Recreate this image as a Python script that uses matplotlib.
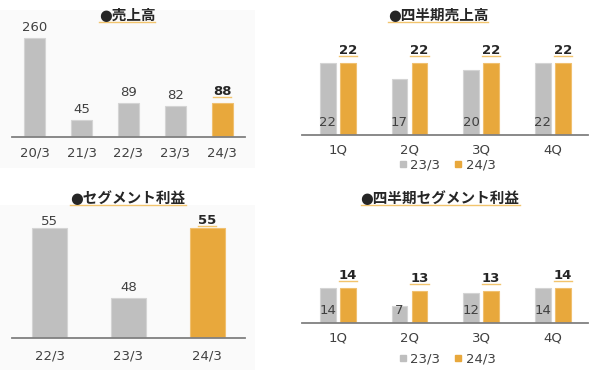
import matplotlib
matplotlib.use("Agg")
import matplotlib.pyplot as plt
from matplotlib.lines import Line2D
from matplotlib.patches import Rectangle

plt.rcParams['font.family'] = ['DejaVu Sans', 'Noto Sans CJK JP']

# données
years_sales = ['20/3', '21/3', '22/3', '23/3', '24/3']
sales = [260, 45, 89, 82, 88]

years_profit = ['22/3', '23/3', '24/3']
profit = [55, 48, 55]

quarters = ['1Q', '2Q', '3Q', '4Q']
q_sales_23 = [22, 17, 20, 22]
q_sales_24 = [22, 22, 22, 22]
q_profit_23 = [14, 7, 12, 14]
q_profit_24 = [14, 13, 13, 14]

GRAY = '#BFBFBF'
ORANGE = '#E8A83C'
TXT = '#404040'
LINE_COL = '#F2C46D'
FS = 9.5

W, H = 600, 375
fig = plt.figure(figsize=(6, 3.75), dpi=100)


def rect(l, t, r, b):
    return [l / W, 1 - b / H, (r - l) / W, (b - t) / H]


# fonds très clairs à gauche
fig.add_artist(Rectangle((0, 1 - 168 / H), 255 / W, 158 / H, transform=fig.transFigure,
                         facecolor='#FAFAFA', edgecolor='none', zorder=0))
fig.add_artist(Rectangle((0, 1 - 370 / H), 255 / W, 165 / H, transform=fig.transFigure,
                         facecolor='#FAFAFA', edgecolor='none', zorder=0))

underlined = []


def style(ax, labels, pad):
    for s in ['top', 'right', 'left']:
        ax.spines[s].set_visible(False)
    ax.spines['bottom'].set_color('#808080')
    ax.spines['bottom'].set_linewidth(1.3)
    ax.set_yticks([])
    ax.set_xticks(range(len(labels)))
    ax.set_xticklabels(labels, fontsize=FS, color=TXT)
    ax.tick_params(axis='x', length=0, pad=pad)
    ax.patch.set_alpha(0)


def simple_chart(ax, labels, values, offsets, pad):
    x = range(len(values))
    colors = [GRAY] * (len(values) - 1) + [ORANGE]
    edges = ['#D4D4D4'] * (len(values) - 1) + ['#F0C070']
    ax.bar(x, values, width=0.45, color=colors, edgecolor=edges, linewidth=0.8)
    for i, v in enumerate(values):
        last = i == len(values) - 1
        t = ax.annotate(str(v), (i, v), xytext=(0, offsets[i]), textcoords='offset points',
                        ha='center', va='bottom', fontsize=FS,
                        fontweight='bold' if last else 'normal',
                        color='#262626' if last else TXT)
        if last:
            underlined.append(t)
    style(ax, labels, pad)


def quarter_chart(ax, v23, v24, pad):
    x = list(range(len(quarters)))
    d = 0.14
    ax.bar([i - d for i in x], v23, width=0.22, color=GRAY, edgecolor='#D4D4D4', linewidth=0.8)
    ax.bar([i + d for i in x], v24, width=0.22, color=ORANGE, edgecolor='#F0C070', linewidth=0.8)
    for i in x:
        ax.annotate(str(v23[i]), (i - d, 0), xytext=(0, 9.2), textcoords='offset points',
                    ha='center', va='center', fontsize=FS, color=TXT)
        t = ax.annotate(str(v24[i]), (i + d, v24[i]), xytext=(0, 4), textcoords='offset points',
                        ha='center', va='bottom', fontsize=FS, fontweight='bold', color='#262626')
        underlined.append(t)
    style(ax, quarters, pad)


ax1 = fig.add_axes(rect(12, 30, 245, 137))
simple_chart(ax1, years_sales, sales, [3, 3, 3, 3, 4], 7)
ax1.set_xlim(-0.49, 4.49)
ax1.set_ylim(0, 281)

ax2 = fig.add_axes(rect(302, 30, 588, 135))
quarter_chart(ax2, q_sales_23, q_sales_24, 6)
ax2.set_xlim(-0.5, 3.49)
ax2.set_ylim(0, 32.1)

ax3 = fig.add_axes(rect(12, 210, 245, 338))
simple_chart(ax3, years_profit, profit, [0, 3, 1], 8)
ax3.set_xlim(-0.48, 2.48)
ax3.set_ylim(44, 56.8)

ax4 = fig.add_axes(rect(302, 215, 588, 323))
quarter_chart(ax4, q_profit_23, q_profit_24, 6)
ax4.set_xlim(-0.5, 3.49)
ax4.set_ylim(0, 43.2)

# légendes
handles = [Line2D([], [], marker='s', linestyle='none', markersize=4.5, color=GRAY, label='23/3'),
           Line2D([], [], marker='s', linestyle='none', markersize=4.5, color=ORANGE, label='24/3')]
for yc in [165, 359]:
    fig.legend(handles=handles, loc='center', bbox_to_anchor=(447 / W, 1 - yc / H), ncol=2,
               frameon=False, fontsize=FS, handlelength=0.6, handletextpad=0.3,
               columnspacing=1.0, labelcolor=TXT)

# titres
titles = [('●売上高', 127, 15), ('●四半期売上高', 438, 15),
          ('●セグメント利益', 128, 199), ('●四半期セグメント利益', 440, 199)]
title_artists = []
for txt, xc, yc in titles:
    t = fig.text(xc / W, 1 - yc / H, txt, ha='center', va='center', fontsize=10.5,
                 fontweight='bold', color='#262626')
    title_artists.append(t)

fig.canvas.draw()
inv = fig.transFigure.inverted()
for t in title_artists + underlined:
    bb = t.get_window_extent()
    (x0, y0), (x1, _) = inv.transform([[bb.x0, bb.y0 + 1], [bb.x1, bb.y1]])
    fig.add_artist(Line2D([x0, x1], [y0, y0], transform=fig.transFigure,
                          color=LINE_COL, linewidth=1.0))

fig.savefig('out.png', dpi=100)
